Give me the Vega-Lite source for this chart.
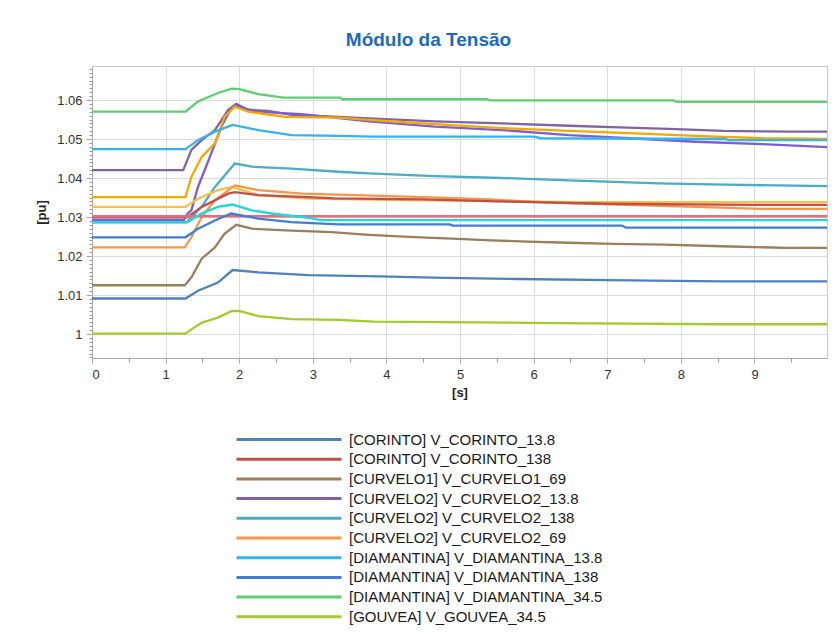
{
  "$schema": "https://vega.github.io/schema/vega-lite/v6.json",
  "width": 735,
  "height": 292,
  "autosize": {"type": "none"},
  "padding": {"left": 92, "top": 66, "right": 11, "bottom": 285},
  "background": "white",
  "title": {"text": "Módulo da Tensão", "font": "Liberation Sans", "fontSize": 19, "fontWeight": "bold", "color": "#1a6ac4", "anchor": "middle", "dx": -31, "offset": 16},
  "datasets": {
    "d": [
      {"s":"[DIAMANTINA] V_DIAMANTINA_34.5","t":0,"v":1.0570},{"s":"[DIAMANTINA] V_DIAMANTINA_34.5","t":1.27,"v":1.0570},{"s":"[DIAMANTINA] V_DIAMANTINA_34.5","t":1.44,"v":1.0596},{"s":"[DIAMANTINA] V_DIAMANTINA_34.5","t":1.71,"v":1.0618},{"s":"[DIAMANTINA] V_DIAMANTINA_34.5","t":1.9,"v":1.0629},{"s":"[DIAMANTINA] V_DIAMANTINA_34.5","t":2.0,"v":1.0628},{"s":"[DIAMANTINA] V_DIAMANTINA_34.5","t":2.26,"v":1.0615},{"s":"[DIAMANTINA] V_DIAMANTINA_34.5","t":2.6,"v":1.0606},{"s":"[DIAMANTINA] V_DIAMANTINA_34.5","t":3.37,"v":1.0606},{"s":"[DIAMANTINA] V_DIAMANTINA_34.5","t":3.4,"v":1.0602},{"s":"[DIAMANTINA] V_DIAMANTINA_34.5","t":5.37,"v":1.0602},{"s":"[DIAMANTINA] V_DIAMANTINA_34.5","t":5.4,"v":1.0599},{"s":"[DIAMANTINA] V_DIAMANTINA_34.5","t":7.9,"v":1.0599},{"s":"[DIAMANTINA] V_DIAMANTINA_34.5","t":7.95,"v":1.0595},{"s":"[DIAMANTINA] V_DIAMANTINA_34.5","t":10,"v":1.0595},

      {"s":"[CURVELO2] V_CURVELO2_13.8","t":0,"v":1.0420},{"s":"[CURVELO2] V_CURVELO2_13.8","t":1.24,"v":1.0420},{"s":"[CURVELO2] V_CURVELO2_13.8","t":1.35,"v":1.0472},{"s":"[CURVELO2] V_CURVELO2_13.8","t":1.49,"v":1.0497},{"s":"[CURVELO2] V_CURVELO2_13.8","t":1.67,"v":1.0523},{"s":"[CURVELO2] V_CURVELO2_13.8","t":1.85,"v":1.0575},{"s":"[CURVELO2] V_CURVELO2_13.8","t":1.96,"v":1.0590},{"s":"[CURVELO2] V_CURVELO2_13.8","t":2.12,"v":1.0575},{"s":"[CURVELO2] V_CURVELO2_13.8","t":2.39,"v":1.0572},{"s":"[CURVELO2] V_CURVELO2_13.8","t":2.71,"v":1.0562},{"s":"[CURVELO2] V_CURVELO2_13.8","t":3.35,"v":1.0557},{"s":"[CURVELO2] V_CURVELO2_13.8","t":3.76,"v":1.0553},{"s":"[CURVELO2] V_CURVELO2_13.8","t":4.66,"v":1.0545},{"s":"[CURVELO2] V_CURVELO2_13.8","t":5.57,"v":1.0540},{"s":"[CURVELO2] V_CURVELO2_13.8","t":6.48,"v":1.0534},{"s":"[CURVELO2] V_CURVELO2_13.8","t":7.16,"v":1.0530},{"s":"[CURVELO2] V_CURVELO2_13.8","t":7.84,"v":1.0526},{"s":"[CURVELO2] V_CURVELO2_13.8","t":8.57,"v":1.0521},{"s":"[CURVELO2] V_CURVELO2_13.8","t":9.48,"v":1.0519},{"s":"[CURVELO2] V_CURVELO2_13.8","t":10,"v":1.0519},

      {"s":"x11","t":0,"v":1.0293},{"s":"x11","t":1.25,"v":1.0293},{"s":"x11","t":1.30,"v":1.0309},{"s":"x11","t":1.35,"v":1.0317},{"s":"x11","t":1.44,"v":1.0377},{"s":"x11","t":1.62,"v":1.0463},{"s":"x11","t":1.76,"v":1.0532},{"s":"x11","t":1.89,"v":1.0579},{"s":"x11","t":1.96,"v":1.0586},{"s":"x11","t":2.2,"v":1.0570},{"s":"x11","t":2.85,"v":1.0564},{"s":"x11","t":3.76,"v":1.0545},{"s":"x11","t":4.66,"v":1.0532},{"s":"x11","t":5.57,"v":1.0523},{"s":"x11","t":6.48,"v":1.0510},{"s":"x11","t":7.3,"v":1.0502},{"s":"x11","t":8.2,"v":1.0493},{"s":"x11","t":9.11,"v":1.0487},{"s":"x11","t":10,"v":1.0479},

      {"s":"x12","t":0,"v":1.0351},{"s":"x12","t":1.27,"v":1.0351},{"s":"x12","t":1.35,"v":1.0403},{"s":"x12","t":1.49,"v":1.0454},{"s":"x12","t":1.67,"v":1.0489},{"s":"x12","t":1.80,"v":1.0557},{"s":"x12","t":1.94,"v":1.0583},{"s":"x12","t":2.12,"v":1.0570},{"s":"x12","t":2.62,"v":1.0557},{"s":"x12","t":3.35,"v":1.0555},{"s":"x12","t":3.76,"v":1.0549},{"s":"x12","t":4.66,"v":1.0538},{"s":"x12","t":5.57,"v":1.0528},{"s":"x12","t":6.48,"v":1.0521},{"s":"x12","t":7.3,"v":1.0515},{"s":"x12","t":8.2,"v":1.0508},{"s":"x12","t":9.11,"v":1.0502},{"s":"x12","t":10,"v":1.0500},

      {"s":"[DIAMANTINA] V_DIAMANTINA_13.8","t":0,"v":1.0474},{"s":"[DIAMANTINA] V_DIAMANTINA_13.8","t":1.27,"v":1.0474},{"s":"[DIAMANTINA] V_DIAMANTINA_13.8","t":1.44,"v":1.0497},{"s":"[DIAMANTINA] V_DIAMANTINA_13.8","t":1.67,"v":1.0519},{"s":"[DIAMANTINA] V_DIAMANTINA_13.8","t":1.91,"v":1.0536},{"s":"[DIAMANTINA] V_DIAMANTINA_13.8","t":2.26,"v":1.0523},{"s":"[DIAMANTINA] V_DIAMANTINA_13.8","t":2.71,"v":1.0510},{"s":"[DIAMANTINA] V_DIAMANTINA_13.8","t":3.35,"v":1.0508},{"s":"[DIAMANTINA] V_DIAMANTINA_13.8","t":3.8,"v":1.0506},{"s":"[DIAMANTINA] V_DIAMANTINA_13.8","t":6.0,"v":1.0506},{"s":"[DIAMANTINA] V_DIAMANTINA_13.8","t":6.1,"v":1.0502},{"s":"[DIAMANTINA] V_DIAMANTINA_13.8","t":8.6,"v":1.0500},{"s":"[DIAMANTINA] V_DIAMANTINA_13.8","t":8.65,"v":1.0497},{"s":"[DIAMANTINA] V_DIAMANTINA_13.8","t":10,"v":1.0497},

      {"s":"[CURVELO2] V_CURVELO2_138","t":0,"v":1.0286},{"s":"[CURVELO2] V_CURVELO2_138","t":1.28,"v":1.0286},{"s":"[CURVELO2] V_CURVELO2_138","t":1.49,"v":1.0326},{"s":"[CURVELO2] V_CURVELO2_138","t":1.67,"v":1.0377},{"s":"[CURVELO2] V_CURVELO2_138","t":1.94,"v":1.0437},{"s":"[CURVELO2] V_CURVELO2_138","t":2.17,"v":1.0429},{"s":"[CURVELO2] V_CURVELO2_138","t":2.71,"v":1.0424},{"s":"[CURVELO2] V_CURVELO2_138","t":3.35,"v":1.0416},{"s":"[CURVELO2] V_CURVELO2_138","t":3.76,"v":1.0412},{"s":"[CURVELO2] V_CURVELO2_138","t":4.66,"v":1.0405},{"s":"[CURVELO2] V_CURVELO2_138","t":5.57,"v":1.0400},{"s":"[CURVELO2] V_CURVELO2_138","t":6.48,"v":1.0394},{"s":"[CURVELO2] V_CURVELO2_138","t":7.7,"v":1.0386},{"s":"[CURVELO2] V_CURVELO2_138","t":8.6,"v":1.0383},{"s":"[CURVELO2] V_CURVELO2_138","t":10,"v":1.0379},

      {"s":"x13","t":0,"v":1.0326},{"s":"x13","t":1.27,"v":1.0326},{"s":"x13","t":1.44,"v":1.0347},{"s":"x13","t":1.71,"v":1.0369},{"s":"x13","t":1.9,"v":1.0377},{"s":"x13","t":2.26,"v":1.0356},{"s":"x13","t":2.94,"v":1.0347},{"s":"x13","t":4.0,"v":1.0344},{"s":"x13","t":5.57,"v":1.0341},{"s":"x13","t":6.5,"v":1.0338},{"s":"x13","t":10,"v":1.0338},

      {"s":"[CURVELO2] V_CURVELO2_69","t":0,"v":1.0222},{"s":"[CURVELO2] V_CURVELO2_69","t":1.26,"v":1.0222},{"s":"[CURVELO2] V_CURVELO2_69","t":1.35,"v":1.0248},{"s":"[CURVELO2] V_CURVELO2_69","t":1.49,"v":1.0300},{"s":"[CURVELO2] V_CURVELO2_69","t":1.67,"v":1.0343},{"s":"[CURVELO2] V_CURVELO2_69","t":1.94,"v":1.0381},{"s":"[CURVELO2] V_CURVELO2_69","t":2.26,"v":1.0369},{"s":"[CURVELO2] V_CURVELO2_69","t":2.85,"v":1.0360},{"s":"[CURVELO2] V_CURVELO2_69","t":3.6,"v":1.0356},{"s":"[CURVELO2] V_CURVELO2_69","t":4.5,"v":1.0351},{"s":"[CURVELO2] V_CURVELO2_69","t":5.4,"v":1.0345},{"s":"[CURVELO2] V_CURVELO2_69","t":6.3,"v":1.0336},{"s":"[CURVELO2] V_CURVELO2_69","t":7.5,"v":1.0330},{"s":"[CURVELO2] V_CURVELO2_69","t":8.2,"v":1.0326},{"s":"[CURVELO2] V_CURVELO2_69","t":9.1,"v":1.0321},{"s":"[CURVELO2] V_CURVELO2_69","t":10,"v":1.0321},

      {"s":"[CORINTO] V_CORINTO_138","t":0,"v":1.0300},{"s":"[CORINTO] V_CORINTO_138","t":1.3,"v":1.0300},{"s":"[CORINTO] V_CORINTO_138","t":1.49,"v":1.0326},{"s":"[CORINTO] V_CORINTO_138","t":1.85,"v":1.0360},{"s":"[CORINTO] V_CORINTO_138","t":1.94,"v":1.0364},{"s":"[CORINTO] V_CORINTO_138","t":2.26,"v":1.0356},{"s":"[CORINTO] V_CORINTO_138","t":2.94,"v":1.0351},{"s":"[CORINTO] V_CORINTO_138","t":3.3,"v":1.0348},{"s":"[CORINTO] V_CORINTO_138","t":4.5,"v":1.0345},{"s":"[CORINTO] V_CORINTO_138","t":5.5,"v":1.0340},{"s":"[CORINTO] V_CORINTO_138","t":7.0,"v":1.0334},{"s":"[CORINTO] V_CORINTO_138","t":9.0,"v":1.0331},{"s":"[CORINTO] V_CORINTO_138","t":10,"v":1.0331},

      {"s":"x14","t":0,"v":1.0302},{"s":"x14","t":10,"v":1.0302},

      {"s":"x15","t":0,"v":1.0287},{"s":"x15","t":1.3,"v":1.0287},{"s":"x15","t":1.49,"v":1.0309},{"s":"x15","t":1.71,"v":1.0326},{"s":"x15","t":1.91,"v":1.0332},{"s":"x15","t":2.17,"v":1.0317},{"s":"x15","t":2.44,"v":1.0309},{"s":"x15","t":2.94,"v":1.0298},{"s":"x15","t":3.0,"v":1.0296},{"s":"x15","t":3.1,"v":1.0292},{"s":"x15","t":10,"v":1.0292},

      {"s":"[DIAMANTINA] V_DIAMANTINA_138","t":0,"v":1.0248},{"s":"[DIAMANTINA] V_DIAMANTINA_138","t":1.27,"v":1.0248},{"s":"[DIAMANTINA] V_DIAMANTINA_138","t":1.44,"v":1.0270},{"s":"[DIAMANTINA] V_DIAMANTINA_138","t":1.67,"v":1.0291},{"s":"[DIAMANTINA] V_DIAMANTINA_138","t":1.89,"v":1.0309},{"s":"[DIAMANTINA] V_DIAMANTINA_138","t":2.26,"v":1.0296},{"s":"[DIAMANTINA] V_DIAMANTINA_138","t":2.71,"v":1.0287},{"s":"[DIAMANTINA] V_DIAMANTINA_138","t":3.35,"v":1.0281},{"s":"[DIAMANTINA] V_DIAMANTINA_138","t":4.86,"v":1.0281},{"s":"[DIAMANTINA] V_DIAMANTINA_138","t":4.9,"v":1.0278},{"s":"[DIAMANTINA] V_DIAMANTINA_138","t":7.2,"v":1.0278},{"s":"[DIAMANTINA] V_DIAMANTINA_138","t":7.25,"v":1.0273},{"s":"[DIAMANTINA] V_DIAMANTINA_138","t":10,"v":1.0273},

      {"s":"[CURVELO1] V_CURVELO1_69","t":0,"v":1.0125},{"s":"[CURVELO1] V_CURVELO1_69","t":1.26,"v":1.0125},{"s":"[CURVELO1] V_CURVELO1_69","t":1.35,"v":1.0145},{"s":"[CURVELO1] V_CURVELO1_69","t":1.49,"v":1.0193},{"s":"[CURVELO1] V_CURVELO1_69","t":1.67,"v":1.0222},{"s":"[CURVELO1] V_CURVELO1_69","t":1.80,"v":1.0257},{"s":"[CURVELO1] V_CURVELO1_69","t":1.96,"v":1.0280},{"s":"[CURVELO1] V_CURVELO1_69","t":2.17,"v":1.0270},{"s":"[CURVELO1] V_CURVELO1_69","t":2.71,"v":1.0265},{"s":"[CURVELO1] V_CURVELO1_69","t":3.26,"v":1.0261},{"s":"[CURVELO1] V_CURVELO1_69","t":3.71,"v":1.0255},{"s":"[CURVELO1] V_CURVELO1_69","t":4.1,"v":1.0251},{"s":"[CURVELO1] V_CURVELO1_69","t":4.54,"v":1.0247},{"s":"[CURVELO1] V_CURVELO1_69","t":4.97,"v":1.0244},{"s":"[CURVELO1] V_CURVELO1_69","t":5.42,"v":1.0240},{"s":"[CURVELO1] V_CURVELO1_69","t":5.92,"v":1.0237},{"s":"[CURVELO1] V_CURVELO1_69","t":6.47,"v":1.0234},{"s":"[CURVELO1] V_CURVELO1_69","t":7.09,"v":1.0231},{"s":"[CURVELO1] V_CURVELO1_69","t":7.77,"v":1.0229},{"s":"[CURVELO1] V_CURVELO1_69","t":8.55,"v":1.0225},{"s":"[CURVELO1] V_CURVELO1_69","t":9.43,"v":1.0221},{"s":"[CURVELO1] V_CURVELO1_69","t":10,"v":1.0221},

      {"s":"[CORINTO] V_CORINTO_13.8","t":0,"v":1.0091},{"s":"[CORINTO] V_CORINTO_13.8","t":1.27,"v":1.0091},{"s":"[CORINTO] V_CORINTO_13.8","t":1.44,"v":1.0111},{"s":"[CORINTO] V_CORINTO_13.8","t":1.71,"v":1.0132},{"s":"[CORINTO] V_CORINTO_13.8","t":1.91,"v":1.0164},{"s":"[CORINTO] V_CORINTO_13.8","t":2.26,"v":1.0158},{"s":"[CORINTO] V_CORINTO_13.8","t":2.94,"v":1.0151},{"s":"[CORINTO] V_CORINTO_13.8","t":3.9,"v":1.0148},{"s":"[CORINTO] V_CORINTO_13.8","t":4.8,"v":1.0144},{"s":"[CORINTO] V_CORINTO_13.8","t":5.8,"v":1.0141},{"s":"[CORINTO] V_CORINTO_13.8","t":7.0,"v":1.0138},{"s":"[CORINTO] V_CORINTO_13.8","t":8.55,"v":1.0135},{"s":"[CORINTO] V_CORINTO_13.8","t":10,"v":1.0135},

      {"s":"[GOUVEA] V_GOUVEA_34.5","t":0,"v":1.0001},{"s":"[GOUVEA] V_GOUVEA_34.5","t":1.27,"v":1.0001},{"s":"[GOUVEA] V_GOUVEA_34.5","t":1.35,"v":1.0012},{"s":"[GOUVEA] V_GOUVEA_34.5","t":1.49,"v":1.0029},{"s":"[GOUVEA] V_GOUVEA_34.5","t":1.71,"v":1.0042},{"s":"[GOUVEA] V_GOUVEA_34.5","t":1.9,"v":1.0059},{"s":"[GOUVEA] V_GOUVEA_34.5","t":2.0,"v":1.0059},{"s":"[GOUVEA] V_GOUVEA_34.5","t":2.26,"v":1.0046},{"s":"[GOUVEA] V_GOUVEA_34.5","t":2.71,"v":1.0038},{"s":"[GOUVEA] V_GOUVEA_34.5","t":3.35,"v":1.0036},{"s":"[GOUVEA] V_GOUVEA_34.5","t":3.83,"v":1.0032},{"s":"[GOUVEA] V_GOUVEA_34.5","t":6.3,"v":1.0028},{"s":"[GOUVEA] V_GOUVEA_34.5","t":8.5,"v":1.0025},{"s":"[GOUVEA] V_GOUVEA_34.5","t":10,"v":1.0025}
    ]
  },
  "data": {"name": "d"},
  "layer": [
    {
      "mark": {"type": "line", "opacity": 0},
      "encoding": {
        "x": {"field": "t", "type": "quantitative", "scale": {"domain": [0, 9.985], "nice": false},
          "axis": {"orient": "bottom", "values": [0.5,1.5,2.5,3.5,4.5,5.5,6.5,7.5,8.5,9.5], "labels": false, "title": null, "grid": false, "domain": false, "tickSize": 4, "tickColor": "#999999"}},
        "y": {"field": "v", "type": "quantitative", "scale": {"domain": [0.99385, 1.06872], "nice": false, "zero": false},
          "axis": {"orient": "left", "values": [0.994,0.995,0.996,0.997,0.998,0.999,1.001,1.002,1.003,1.004,1.005,1.006,1.007,1.008,1.009,1.011,1.012,1.013,1.014,1.015,1.016,1.017,1.018,1.019,1.021,1.022,1.023,1.024,1.025,1.026,1.027,1.028,1.029,1.031,1.032,1.033,1.034,1.035,1.036,1.037,1.038,1.039,1.041,1.042,1.043,1.044,1.045,1.046,1.047,1.048,1.049,1.051,1.052,1.053,1.054,1.055,1.056,1.057,1.058,1.059,1.061,1.062,1.063,1.064,1.065,1.066,1.067,1.068], "labels": false, "title": null, "grid": false, "domain": false, "tickSize": 3, "tickColor": "#999999"}},
        "detail": {"field": "s", "type": "nominal"}
      }
    },
    {
      "mark": {"type": "line", "strokeWidth": 2.3, "clip": true},
      "encoding": {
        "x": {"field": "t", "type": "quantitative", "scale": {"domain": [0, 9.985], "nice": false},
          "axis": {"orient": "bottom", "values": [0,1,2,3,4,5,6,7,8,9], "title": "[s]", "titleFont": "Liberation Sans", "titleFontSize": 13, "titleFontWeight": "bold", "titleColor": "#222", "titlePadding": 5,
            "labelFont": "Liberation Sans", "labelFontSize": 13, "labelColor": "#333", "labelPadding": 5, "tickSize": 5, "tickColor": "#a8a8a8", "domainColor": "#a8a8a8", "gridColor": "#dcdcdc", "grid": true}},
        "y": {"field": "v", "type": "quantitative", "scale": {"domain": [0.99385, 1.06872], "nice": false, "zero": false},
          "axis": {"orient": "left", "values": [1,1.01,1.02,1.03,1.04,1.05,1.06], "format": "~g", "title": "[pu]", "titleFont": "Liberation Sans", "titleFontSize": 13, "titleFontWeight": "bold", "titleColor": "#222", "titlePadding": 8,
            "labelFont": "Liberation Sans", "labelFontSize": 13, "labelColor": "#333", "labelPadding": 4, "tickSize": 6, "tickColor": "#a8a8a8", "domainColor": "#a8a8a8", "gridColor": "#dcdcdc", "grid": true}},
        "color": {"field": "s", "type": "nominal",
          "scale": {
            "domain": ["[CORINTO] V_CORINTO_13.8","[CORINTO] V_CORINTO_138","[CURVELO1] V_CURVELO1_69","[CURVELO2] V_CURVELO2_13.8","[CURVELO2] V_CURVELO2_138","[CURVELO2] V_CURVELO2_69","[DIAMANTINA] V_DIAMANTINA_13.8","[DIAMANTINA] V_DIAMANTINA_138","[DIAMANTINA] V_DIAMANTINA_34.5","[GOUVEA] V_GOUVEA_34.5","x11","x12","x13","x14","x15"],
            "range": ["#4f81bd","#c0504d","#9e7e5a","#8064a2","#4bacc6","#f79646","#33b4f0","#3f7ed4","#5ecf70","#a2cc2c","#7d5fd1","#f4a900","#fbbf45","#e96b7e","#1fd8d8"]
          },
          "legend": {
            "values": ["[CORINTO] V_CORINTO_13.8","[CORINTO] V_CORINTO_138","[CURVELO1] V_CURVELO1_69","[CURVELO2] V_CURVELO2_13.8","[CURVELO2] V_CURVELO2_138","[CURVELO2] V_CURVELO2_69","[DIAMANTINA] V_DIAMANTINA_13.8","[DIAMANTINA] V_DIAMANTINA_138","[DIAMANTINA] V_DIAMANTINA_34.5","[GOUVEA] V_GOUVEA_34.5"],
            "orient": "none", "legendX": 143, "legendY": 366, "title": null,
            "symbolType": "stroke", "symbolSize": 11025, "symbolStrokeWidth": 3, "clipHeight": 15,
            "labelFont": "Liberation Sans", "labelFontSize": 15, "labelColor": "#1a1a1a", "labelOffset": 6, "rowPadding": 3.7, "labelLimit": 400
          }
        }
      }
    }
  ],
  "resolve": {"scale": {"x": "independent", "y": "independent"}, "axis": {"x": "independent", "y": "independent"}},
  "config": {"view": {"stroke": "#c8c8c8"}}
}
